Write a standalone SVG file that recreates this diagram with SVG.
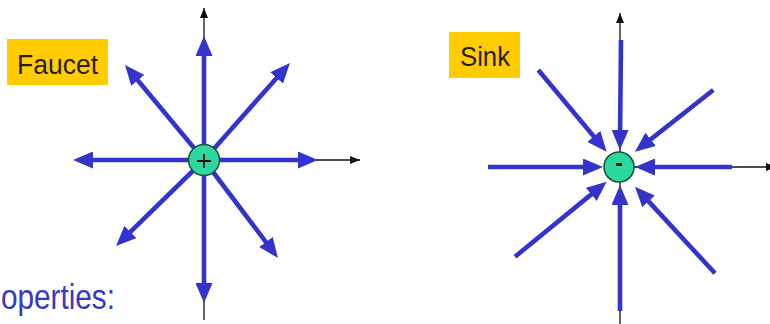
<svg xmlns="http://www.w3.org/2000/svg" width="770" height="324" viewBox="0 0 770 324">
  <style>
    .axis { stroke: #111; stroke-width: 1.3; fill: none; marker-end: url(#axisHead); }
    .flow { stroke: #3434CC; stroke-width: 4.6; fill: none; marker-end: url(#flowHead); }
    .tag { fill: #FFCC00; }
    .tag-text { font-family: "Liberation Sans", Arial, sans-serif; font-size: 27px; fill: #2b1d0e; }
    .charge { fill: #2BD9A0; stroke: #1d4d33; stroke-width: 1.5; }
    .sign { stroke: #111; stroke-width: 2; fill: none; }
    .caption { font-family: "Liberation Sans", Arial, sans-serif; font-size: 35px; fill: #3838C8; }
  </style>
  <defs>
    <marker id="axisHead" markerUnits="userSpaceOnUse" viewBox="0 0 10 8" markerWidth="10" markerHeight="8" refX="10" refY="4" orient="auto">
      <path d="M0,0 L10,4 L0,8 z" fill="#111"/>
    </marker>
    <marker id="flowHead" markerUnits="userSpaceOnUse" viewBox="0 0 20 17" markerWidth="20" markerHeight="17" refX="2" refY="8.5" orient="auto">
      <path d="M0,0 L20,8.5 L0,17 z" fill="#3434CC"/>
    </marker>
  </defs>

  <!-- connectors: coordinate axes and flow arrows -->
  <g id="connectors">
    <!-- source axes -->
    <line class="axis" x1="204" y1="320" x2="204" y2="8"/>
    <line class="axis" x1="90" y1="160" x2="360" y2="160"/>
    <!-- sink axes -->
    <line class="axis" x1="620" y1="324" x2="620" y2="13"/>
    <line class="axis" x1="620" y1="167" x2="776" y2="167"/>

    <!-- outward flow from the source -->
    <line class="flow" x1="204" y1="160" x2="204" y2="54"/>
    <line class="flow" x1="204" y1="160" x2="204" y2="285"/>
    <line class="flow" x1="204" y1="160" x2="91" y2="160"/>
    <line class="flow" x1="204" y1="160" x2="300" y2="160"/>
    <line class="flow" x1="204" y1="160" x2="136.5" y2="78.8"/>
    <line class="flow" x1="204" y1="160" x2="278" y2="76.5"/>
    <line class="flow" x1="204" y1="160" x2="128.9" y2="233.4"/>
    <line class="flow" x1="204" y1="160" x2="267.1" y2="243.6"/>

    <!-- inward flow to the sink -->
    <line class="flow" x1="621" y1="40" x2="620.1" y2="132"/>
    <line class="flow" x1="620" y1="311" x2="620" y2="203"/>
    <line class="flow" x1="488" y1="167" x2="585" y2="167"/>
    <line class="flow" x1="732" y1="167" x2="653" y2="167"/>
    <line class="flow" x1="538.3" y1="70" x2="595.1" y2="137.9"/>
    <line class="flow" x1="713.3" y1="90" x2="649.1" y2="140.6"/>
    <line class="flow" x1="515" y1="256.7" x2="592.8" y2="193.1"/>
    <line class="flow" x1="715" y1="273.3" x2="647.2" y2="199.9"/>
  </g>

  <!-- source charge -->
  <g id="source">
    <circle class="charge" cx="204" cy="160" r="15.5"/>
    <path class="sign" d="M197,161 H211 M204,154 V168"/>
  </g>

  <!-- sink charge -->
  <g id="sink">
    <circle class="charge" cx="619" cy="167" r="15"/>
    <rect x="616" y="163" width="6" height="3" fill="#111"/>
  </g>

  <g id="faucet-label">
    <rect class="tag" x="7" y="39" width="101" height="46"/>
    <text class="tag-text" x="17" y="74" textLength="81" lengthAdjust="spacingAndGlyphs">Faucet</text>
  </g>

  <g id="sink-label">
    <rect class="tag" x="449" y="32" width="71" height="46"/>
    <text class="tag-text" x="460" y="66" textLength="50" lengthAdjust="spacingAndGlyphs">Sink</text>
  </g>

  <text class="caption" x="1" y="309" textLength="114" lengthAdjust="spacingAndGlyphs">operties:</text>
</svg>
